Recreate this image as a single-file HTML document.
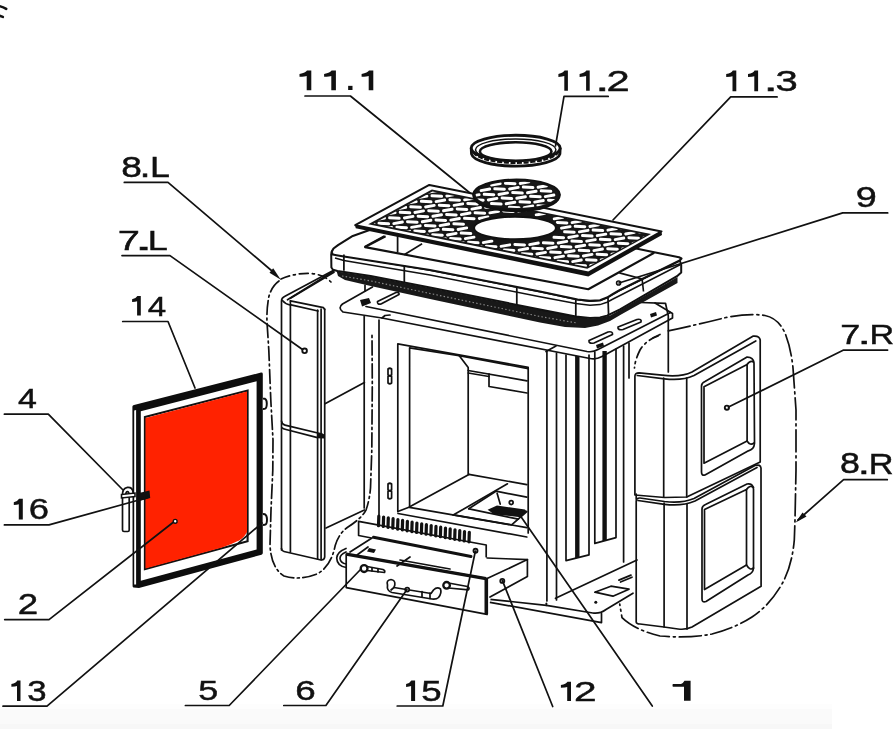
<!DOCTYPE html>
<html><head><meta charset="utf-8">
<style>
html,body{margin:0;padding:0;background:#fff;}
body{width:894px;height:729px;overflow:hidden;position:relative;font-family:"Liberation Sans",sans-serif;}
svg{position:absolute;left:0;top:0;filter:blur(0.35px);}
text{font-family:"Liberation Sans",sans-serif;fill:#111;}
.l{stroke:#111;stroke-width:1.7;fill:none;stroke-linecap:round;stroke-linejoin:round;}
.m{stroke:#111;stroke-width:2;fill:none;stroke-linecap:round;stroke-linejoin:round;}
.k{stroke:#111;stroke-width:3;fill:none;stroke-linecap:round;stroke-linejoin:round;}
.f{fill:#111;stroke:none;}
.wf{fill:#fff;}
</style></head><body>
<svg width="894" height="729" viewBox="0 0 894 729">
<rect x="0" y="704" width="832" height="5" fill="#fdfdfd"/>
<rect x="0" y="709" width="832" height="15" fill="#fafafa"/>
<rect x="0" y="724" width="832" height="5" fill="#f7f7f7"/>
<g id="door">
<!-- door outer dark -->
<path d="M132.4,406.5 Q132.6,405.2 134,404.9 L261,372.6 Q262.8,372.4 262.8,374 L262.8,553 Q262.8,554.4 261.5,554.7 L139,588 L133.5,587.4 Q132.6,587.2 132.6,586 Z" fill="#0d0d0d"/>
<!-- thin white strip on left -->
<path d="M134.2,410.5 L136.1,410 L136.1,584.5 L134.2,584.5 Z" fill="#fff"/>
<!-- white frame face -->
<path d="M140.8,411.3 L256.6,381.3 L256.6,549.4 L140.8,580.7 Z" fill="#fff"/>
<!-- red panel with border -->
<path d="M144.9,417 L247.6,390.5 L247.6,541.3 L144.9,569.2 Z" fill="none" stroke="#111" stroke-width="2.08"/>
<path d="M145.5,418 L247,391.5 L247,532 Q244,538 239,540.5 Q231,544.5 222,547.6 L145.5,568.5 Z" fill="#ff2200"/>
<!-- hinges -->
<path d="M262.8,398.6 L265,398.8 Q266.8,399.6 266.8,403.5 Q266.8,408.6 264.6,408.9 L262.8,409" fill="#fff" stroke="#111" stroke-width="1.95"/>
<path d="M262.8,514 L265,514.3 Q267,515.5 267,519.5 Q267,524.6 264.8,524.8 L262.8,525" fill="#fff" stroke="#111" stroke-width="1.95"/>
<!-- handle 4 -->
<path d="M122.5,495 L122.5,530 Q122.6,531.5 124,531.5 L127.8,531.5 Q129.2,531.5 129.2,530 L129.2,495" fill="#fff" stroke="#111" stroke-width="1.69"/>
<path d="M122.5,496 Q122,488 127.5,487.3 Q132.5,487 133,492 L133,494.5 L129.2,495 Q129,491.5 127.2,491.7 Q125.6,492 125.8,496 Z" fill="#fff" stroke="#111" stroke-width="1.69"/>
<path d="M121.5,494.5 L135,493 L135,496.5 L121.5,498 Z" fill="#fff" stroke="#111" stroke-width="1.56"/>
<!-- latch 16 -->
<path d="M139,493 L149.5,490.5 L150.2,498 L139.5,501 Z" fill="#111"/>
<!-- 2 dot -->
<circle cx="175.2" cy="521.3" r="1.9" fill="#fff" stroke="#111" stroke-width="1.43"/>

</g>
<g id="leftpanel">
<!-- arrowhead 8.L -->
<path d="M280.8,279.8 L269.5,272.8 L273.2,268.2 Z" class="f"/>
<!-- left panel -->
<path d="M281.5,550 L281.5,301 Q281.6,298 284.5,296.6 L334.6,269.8" class="l" stroke-width="2.48"/>
<path d="M290.4,298.3 L334,272.2" class="l" stroke-width="1.89"/>
<path d="M287.5,299.8 L333.8,271" class="l" stroke-width="1.16"/>
<path d="M282.7,300.8 Q285,304 290,305" class="l" stroke-width="1.89"/>
<path d="M290.4,300.8 L323.5,307.7 L324.7,309.5" class="l" stroke-width="2.8"/>
<path d="M291,304.8 L318,311" class="l" stroke-width="1.75"/>
<path d="M290.4,300.8 L290.4,552" class="l" stroke-width="1.89"/>
<path d="M317.6,310 L317.6,559" class="l" stroke-width="1.89"/>
<path d="M321.1,309 L321.1,559" class="l" stroke-width="1.89"/>
<path d="M324.7,309 L324.7,557 Q324.5,559.8 321.5,560" class="l" stroke-width="2.48"/>
<path d="M281.5,548.5 Q281.8,551 284,551.5 L321,560" class="l" stroke-width="2.71"/>
<!-- split between upper and lower block -->
<path d="M281.5,421 Q282,424.5 285,425.2 L322,434" class="l" stroke-width="3.2"/>
<path d="M282,427.8 Q283,429 286,429.5 L317.5,437.6" class="l" stroke-width="2"/>
<path d="M317,433 L324.5,434.2 L324.5,438.5 L317,438.3 Z" class="f"/>
<!-- 7.L dot -->
<circle cx="304.6" cy="350.8" r="2.3" fill="#fff" stroke="#111" stroke-width="1.89"/>

</g>
<g id="body">
<!-- body side and front base fill -->
<path d="M363.6,317 L379,320 L548,350 L548,601 L379,560 L363.6,516 Z" fill="#fff"/>
<!-- body left side lines -->
<path d="M364.2,316.5 L364.2,508" class="l" stroke-width="1.9"/>
<path d="M379,320 L379,515" class="l" stroke-width="2.18"/>
<path d="M365,285 L365,291" class="l" stroke-width="1.89"/>
<!-- latch slots B -->
<path d="M388,369 Q389.8,367.5 391.6,369 L391.6,375 Q389.8,376.2 388,375 Z M388,376.5 Q389.8,375.5 391.6,376.5 L391.6,383 Q389.8,384.5 388,383 Z" class="l" stroke-width="1.89"/>
<path d="M388,484 Q389.8,482.5 391.6,484 L391.6,490 Q389.8,491.2 388,490 Z M388,491.5 Q389.8,490.5 391.6,491.5 L391.6,498 Q389.8,499.5 388,498 Z" class="l" stroke-width="1.89"/>
<!-- front face lintel top line -->
<!-- opening outer -->
<path d="M397.8,511.5 L397.8,343.9 L528.2,367.4 L528.2,533" class="l" stroke-width="2.18"/>
<!-- opening inner -->
<path d="M409.6,507 L409.6,347.8 L459.1,355.6 L468.2,367.4 L468.2,474.3" class="l" stroke-width="1.89"/>
<path d="M459.1,355.6 L528.2,368.7" class="l" stroke-width="1.6"/>
<!-- baffle -->
<path d="M468.2,370.5 L527,380.8" class="l" stroke-width="1.6"/>
<path d="M468.2,373 L489,376.5" class="l" stroke-width="1.6"/>
<path d="M489,373.9 L489,386.5 L527,393" class="l" stroke-width="1.89"/>
<!-- back wall bottom & floor -->
<path d="M468.9,474.4 L526.8,484.6" class="l" stroke-width="2.04"/>
<path d="M410.2,506.5 L468.9,474.4" class="l" stroke-width="2.62"/>
<path d="M453.2,515.1 L507.5,483.8" class="l" stroke-width="2.9"/>
<path d="M468.7,508.8 L495.9,491.2 L526.8,497.2" class="l" stroke-width="2.6"/>
<path d="M469.1,508.8 L518.3,519.2" class="l" stroke-width="1.8"/>
<path d="M497.1,493.2 L500.2,504.1" class="l" stroke-width="1.6"/>
<path d="M487.6,509.8 L497,505.5 L524.9,509.5 L526.8,511.5 L520.5,517.2 L494,514.3 Z" fill="#111"/>
<path d="M453.4,514.9 L511.6,524.8 L526.8,511.5" class="l" stroke-width="2.3"/>
<circle cx="511.2" cy="502.6" r="1.9" fill="#fff" stroke="#111" stroke-width="1.75"/>
<!-- opening bottom frame -->
<path d="M397.8,511.5 L409.6,507" class="l" stroke-width="1.6"/>
<path d="M409.4,507.3 L526.8,527.6" class="l" stroke-width="1.89"/>
<path d="M398,513.5 L526.8,537" class="l" stroke-width="2.18"/>
<!-- right front face and ribs -->
<path d="M546.9,351 L546.9,601" class="l" stroke-width="2.18"/>
<path d="M556.5,353 L556.5,600" class="l" stroke-width="1.89"/>
<path d="M566,355 L566,560.6 L589,554.9 L589,355" class="l" stroke-width="1.89"/>
<path d="M577.3,356 L577.3,558" stroke="#111" stroke-width="4.4"/>
<path d="M594.8,352 L594.8,543.4 L616,537.6 L616,349" class="l" stroke-width="1.89"/>
<path d="M604.6,351 L604.6,541" stroke="#111" stroke-width="4.4"/>
<path d="M623.6,346 L623.6,562" class="l" stroke-width="1.89"/>
<path d="M629,343 L629,378" class="l" stroke-width="1.6"/>
<!-- right side of body behind -->
<path d="M641,302.5 L665.5,303.3 L668.3,316 L668.3,372" class="l" stroke-width="2.18"/>
<path d="M653,338 L658,336" class="l" stroke-width="1.75"/>
<!-- body back-left diagonals (behind left panel) -->
<path d="M325,403.7 L364.4,382.6" class="l" stroke-width="2.18"/>
<path d="M326,528 L364.4,510" class="l" stroke-width="2.18"/>
<!-- hob plate -->
<path d="M372.5,287 L342.5,304 Q337.5,308 343,312 L382,318 L590,358.5 Q596,359.8 602,356.5 L672.5,318 L672.5,313.5 L655,303" fill="#fff" class="l" stroke-width="2.24"/>
<path d="M366,306.5 L587,351.5 Q593,352.5 598,349.5 L670.5,312.5" class="l" stroke-width="1.9"/>
<path d="M382,318 L385,315.5 L390,315" class="l" stroke-width="1.57"/>
<path d="M546,351.5 L556,346" class="l" stroke-width="1.79"/>
<!-- slots on hob -->
<path d="M360,300 L369,298 L371,303 L362,306.5 Z" class="f"/>
<path d="M377.5,301.5 L396,292.5 Q399.5,292 399,294.5 L381,304 Q377,304.8 377.5,301.5 Z" fill="#fff" class="l" stroke-width="3"/>
<path d="M589,340.5 L608,332 Q613,331 612.5,334.5 L594,343 Q588.5,344 589,340.5 Z" fill="#fff" class="l" stroke-width="3.0"/>
<path d="M618,327 L637,319.5 Q642,318.5 641,322 L623,329.5 Q617.5,330.5 618,327 Z" fill="#fff" class="l" stroke-width="3.0"/>
<path d="M596,345 L603,342.5 L604,346 L597,348.5 Z" class="f"/>
<path d="M650,314 L656,312 L657,315.5 L651,317.5 Z" class="f"/>
<!-- base plate -->
<path d="M555.5,598.3 L637,560" class="l" stroke-width="2.04"/>
<path d="M490,599.3 L546.4,605.3 L592.7,613 Q600,614 606,609.5 L633,593.2" class="l" stroke-width="2.33"/>
<path d="M490,602.3 L601.5,622.6 L601.5,613.5" class="l" stroke-width="2.33"/>
<path d="M546.4,603.3 L546.4,605.3" class="l" stroke-width="2.04"/>
<path d="M594.8,592.2 L610.9,586.2 L629,589.2 L612.9,596.2 Z" class="l" stroke-width="2.04"/>
<path d="M618.9,580.1 L631,575.1 M620.5,582 L632,577.2" class="l" stroke-width="1.6"/>
<circle cx="595.8" cy="602.3" r="1.5" class="f"/>

</g>
<g id="outlineL">
<!-- 8.L dashed outline -->
<path d="M281,279 Q296,272.5 312,273.5 Q324,275 331,282" class="l" stroke-width="1.8" stroke-dasharray="9 4 2 4" stroke-linecap="butt"/>
<path d="M279,281 Q272,286 269,296 Q266.5,308 267,322 L268.8,350 L270.8,400 L273,440 L272.8,470 L271,510 L270,545 Q271,568 284,576 Q300,581 318,573.5 Q331,566 335.2,545.6 Q339,533 348,527 Q362,518 366.1,509.8 Q369.5,500 370.5,488 L371.8,450 L372.3,384 L372,334" class="l" stroke-width="1.8" stroke-dasharray="14 3.5 2 3.5" stroke-linecap="butt"/>

</g>
<g id="top">
<polygon points="336.7,271.5 370.7,276.4 430.0,288.0 540.0,309.8 577.0,316.8 590.0,318.4 600.0,317.8 610.0,315.5 620.0,310.0 677.5,277.0 677.5,283.0 622.0,314.0 610.0,321.0 598.0,325.5 585.0,328.0 565.0,327.0 540.0,322.5 430.0,299.0 370.7,286.0 345.0,280.0 338.0,276.0" fill="#181818"/>
<polyline points="342,276 371,281 430,293.5 540,316.5 577,323" fill="none" stroke="#888" stroke-width="1.12" stroke-dasharray="1.5 2.2"/>
<polygon points="331.2,254.0 332.5,250.5 336.5,251.5 343.9,255.5 430.0,270.0 540.0,291.5 577.6,299.5 590.0,300.9 600.0,300.2 607.0,297.6 613.0,294.0 620.0,290.0 679.7,260.5 681.2,264.5 681.2,272.5 677.0,276.2 620.0,309.4 607.0,315.6 600.0,317.4 590.0,318.0 575.8,316.5 540.0,309.4 430.0,287.6 370.7,276.1 337.5,271.0 333.0,269.8 331.4,267.5" fill="#fff" stroke="#111" stroke-width="2.0" stroke-linejoin="round"/>
<polyline points="335,258 343.9,260.5 430,275 540,296.8 575.8,303.6 590,305.3 600,304.6 607,302.2 614,298.5 620,295.5 680.5,264.5" fill="none" stroke="#111" stroke-width="1.5"/>
<polygon points="352.8,235.9 338.0,245.2 333.5,248.5 331.6,252.0 332.8,254.5 336.5,255.2 343.9,256.5 430.0,270.0 540.0,291.5 577.6,299.5 590.0,300.9 600.0,300.2 607.0,297.6 613.0,294.0 620.0,290.0 679.7,260.5 681.5,258.5 679.0,257.2 654.2,252.3 600.0,241.0 420.0,212.0" fill="#fff" stroke="#111" stroke-width="2.12" stroke-linejoin="round"/>
<polyline points="385.6,236.3 365,247.1 588.3,289.2 620,271.8 654.2,252.8" fill="none" stroke="#111" stroke-width="2.12" stroke-linejoin="round"/>
<polyline points="384.2,235.9 364.5,246.6" fill="none" stroke="#111" stroke-width="1.25"/>
<polyline points="404.2,254.8 422.1,243.7" fill="none" stroke="#111" stroke-width="1.6"/>
<polyline points="399.4,252.9 399.5,252.9" fill="none" stroke="#111" stroke-width="1.62"/>
<line x1="397.6" y1="236" x2="397.6" y2="252.5" stroke="#111" stroke-width="1.75"/>
<polyline points="619.3,272.9 642.1,278.9 643.5,291.5" fill="none" stroke="#111" stroke-width="1.62"/>
<path d="M343.9,254.5 L343.9,270.8 M404.3,265 L404.3,282.8 M516.8,287 L516.8,305 M575.8,299.8 L575.8,316.5 M608,297.5 L608.6,315.5" stroke="#111" stroke-width="1.75" fill="none"/>
<circle cx="618.6" cy="283" r="2" fill="#fff" stroke="#111" stroke-width="1.62"/>
<polygon points="355.2,225.2 588.3,272.6 661.5,231.4 662.0,234.9 588.3,276.4 355.7,228.2" fill="#111"/>
<polygon points="355.2,225.2 429.3,184.9 661.5,231.4 588.3,272.6" fill="#fff" stroke="#111" stroke-width="2.0" stroke-linejoin="round"/>
<polygon points="368.2,224.2 431.9,189.6 651.0,234.1 587.3,268.8" fill="#171717"/>
<clipPath id="grc"><polygon points="373.6,223.4 432.5,191.4 646.5,234.9 587.6,266.9"/></clipPath>
<defs><rect id="hw" x="-6.3" y="-1.5" width="12.6" height="3.0" rx="1.5"/><rect id="ht" x="-5.8" y="-1.45" width="11.6" height="2.9" rx="1.3"/></defs>
<g fill="#fff" clip-path="url(#grc)"><use href="#hw" transform="translate(429.5,186.8) rotate(3)"/><use href="#hw" transform="translate(418.9,192.3) rotate(3)"/><use href="#ht" transform="translate(433.2,191.4) rotate(-10)"/><use href="#hw" transform="translate(447.4,190.6) rotate(3)"/><use href="#hw" transform="translate(408.3,197.8) rotate(3)"/><use href="#ht" transform="translate(422.6,196.9) rotate(-10)"/><use href="#hw" transform="translate(436.8,196.1) rotate(3)"/><use href="#ht" transform="translate(451.1,195.2) rotate(-10)"/><use href="#hw" transform="translate(465.3,194.4) rotate(3)"/><use href="#hw" transform="translate(397.7,203.3) rotate(3)"/><use href="#ht" transform="translate(411.9,202.4) rotate(-10)"/><use href="#hw" transform="translate(426.2,201.6) rotate(3)"/><use href="#ht" transform="translate(440.4,200.8) rotate(-10)"/><use href="#hw" transform="translate(454.7,199.9) rotate(3)"/><use href="#ht" transform="translate(468.9,199.1) rotate(-10)"/><use href="#hw" transform="translate(483.2,198.2) rotate(3)"/><use href="#hw" transform="translate(387.1,208.8) rotate(3)"/><use href="#ht" transform="translate(401.4,208.0) rotate(-10)"/><use href="#hw" transform="translate(415.6,207.1) rotate(3)"/><use href="#ht" transform="translate(429.9,206.2) rotate(-10)"/><use href="#hw" transform="translate(444.1,205.4) rotate(3)"/><use href="#ht" transform="translate(458.4,204.6) rotate(-10)"/><use href="#hw" transform="translate(472.6,203.7) rotate(3)"/><use href="#ht" transform="translate(486.9,202.8) rotate(-10)"/><use href="#hw" transform="translate(501.1,202.0) rotate(3)"/><use href="#hw" transform="translate(376.5,214.3) rotate(3)"/><use href="#ht" transform="translate(390.8,213.4) rotate(-10)"/><use href="#hw" transform="translate(405.0,212.6) rotate(3)"/><use href="#ht" transform="translate(419.2,211.7) rotate(-10)"/><use href="#hw" transform="translate(433.5,210.9) rotate(3)"/><use href="#ht" transform="translate(447.8,210.0) rotate(-10)"/><use href="#hw" transform="translate(462.0,209.2) rotate(3)"/><use href="#ht" transform="translate(476.2,208.3) rotate(-10)"/><use href="#hw" transform="translate(490.5,207.5) rotate(3)"/><use href="#ht" transform="translate(504.8,206.6) rotate(-10)"/><use href="#hw" transform="translate(519.0,205.8) rotate(3)"/><use href="#hw" transform="translate(365.9,219.8) rotate(3)"/><use href="#ht" transform="translate(380.2,218.9) rotate(-10)"/><use href="#hw" transform="translate(394.4,218.1) rotate(3)"/><use href="#ht" transform="translate(408.7,217.2) rotate(-10)"/><use href="#hw" transform="translate(422.9,216.4) rotate(3)"/><use href="#ht" transform="translate(437.2,215.5) rotate(-10)"/><use href="#hw" transform="translate(451.4,214.7) rotate(3)"/><use href="#ht" transform="translate(465.7,213.8) rotate(-10)"/><use href="#hw" transform="translate(479.9,213.0) rotate(3)"/><use href="#ht" transform="translate(494.2,212.1) rotate(-10)"/><use href="#hw" transform="translate(508.4,211.3) rotate(3)"/><use href="#ht" transform="translate(522.7,210.4) rotate(-10)"/><use href="#hw" transform="translate(536.9,209.6) rotate(3)"/><use href="#ht" transform="translate(369.6,224.4) rotate(-10)"/><use href="#hw" transform="translate(383.8,223.6) rotate(3)"/><use href="#ht" transform="translate(398.1,222.8) rotate(-10)"/><use href="#hw" transform="translate(412.3,221.9) rotate(3)"/><use href="#ht" transform="translate(426.6,221.0) rotate(-10)"/><use href="#hw" transform="translate(440.8,220.2) rotate(3)"/><use href="#ht" transform="translate(455.1,219.3) rotate(-10)"/><use href="#hw" transform="translate(469.3,218.5) rotate(3)"/><use href="#ht" transform="translate(483.6,217.7) rotate(-10)"/><use href="#ht" transform="translate(540.5,214.2) rotate(-10)"/><use href="#hw" transform="translate(554.8,213.4) rotate(3)"/><use href="#ht" transform="translate(387.4,228.2) rotate(-10)"/><use href="#hw" transform="translate(401.7,227.4) rotate(3)"/><use href="#ht" transform="translate(415.9,226.6) rotate(-10)"/><use href="#hw" transform="translate(430.2,225.7) rotate(3)"/><use href="#ht" transform="translate(444.4,224.8) rotate(-10)"/><use href="#hw" transform="translate(458.7,224.0) rotate(3)"/><use href="#ht" transform="translate(558.5,218.1) rotate(-10)"/><use href="#hw" transform="translate(572.7,217.2) rotate(3)"/><use href="#ht" transform="translate(405.4,232.1) rotate(-10)"/><use href="#hw" transform="translate(419.6,231.2) rotate(3)"/><use href="#ht" transform="translate(433.9,230.3) rotate(-10)"/><use href="#hw" transform="translate(448.1,229.5) rotate(3)"/><use href="#ht" transform="translate(462.4,228.7) rotate(-10)"/><use href="#hw" transform="translate(562.1,222.7) rotate(3)"/><use href="#ht" transform="translate(576.4,221.8) rotate(-10)"/><use href="#hw" transform="translate(590.6,221.0) rotate(3)"/><use href="#ht" transform="translate(423.2,235.9) rotate(-10)"/><use href="#hw" transform="translate(437.5,235.0) rotate(3)"/><use href="#ht" transform="translate(451.8,234.2) rotate(-10)"/><use href="#hw" transform="translate(466.0,233.3) rotate(3)"/><use href="#ht" transform="translate(565.8,227.4) rotate(-10)"/><use href="#hw" transform="translate(580.0,226.5) rotate(3)"/><use href="#ht" transform="translate(594.2,225.7) rotate(-10)"/><use href="#hw" transform="translate(608.5,224.8) rotate(3)"/><use href="#ht" transform="translate(441.2,239.6) rotate(-10)"/><use href="#hw" transform="translate(455.4,238.8) rotate(3)"/><use href="#ht" transform="translate(469.7,237.9) rotate(-10)"/><use href="#hw" transform="translate(569.4,232.0) rotate(3)"/><use href="#ht" transform="translate(583.7,231.1) rotate(-10)"/><use href="#hw" transform="translate(597.9,230.3) rotate(3)"/><use href="#ht" transform="translate(612.2,229.4) rotate(-10)"/><use href="#hw" transform="translate(626.4,228.6) rotate(3)"/><use href="#ht" transform="translate(459.1,243.4) rotate(-10)"/><use href="#hw" transform="translate(473.3,242.6) rotate(3)"/><use href="#ht" transform="translate(487.6,241.8) rotate(-10)"/><use href="#hw" transform="translate(558.8,237.5) rotate(3)"/><use href="#ht" transform="translate(573.0,236.7) rotate(-10)"/><use href="#hw" transform="translate(587.3,235.8) rotate(3)"/><use href="#ht" transform="translate(601.5,234.9) rotate(-10)"/><use href="#hw" transform="translate(615.8,234.1) rotate(3)"/><use href="#ht" transform="translate(630.0,233.2) rotate(-10)"/><use href="#hw" transform="translate(644.3,232.4) rotate(3)"/><use href="#ht" transform="translate(658.5,231.5) rotate(-10)"/><use href="#ht" transform="translate(476.9,247.2) rotate(-10)"/><use href="#hw" transform="translate(491.2,246.4) rotate(3)"/><use href="#ht" transform="translate(505.4,245.6) rotate(-10)"/><use href="#hw" transform="translate(519.7,244.7) rotate(3)"/><use href="#ht" transform="translate(534.0,243.8) rotate(-10)"/><use href="#hw" transform="translate(548.2,243.0) rotate(3)"/><use href="#ht" transform="translate(562.5,242.2) rotate(-10)"/><use href="#hw" transform="translate(576.7,241.3) rotate(3)"/><use href="#ht" transform="translate(591.0,240.4) rotate(-10)"/><use href="#hw" transform="translate(605.2,239.6) rotate(3)"/><use href="#ht" transform="translate(619.5,238.8) rotate(-10)"/><use href="#hw" transform="translate(633.7,237.9) rotate(3)"/><use href="#ht" transform="translate(648.0,237.1) rotate(-10)"/><use href="#ht" transform="translate(494.9,251.1) rotate(-10)"/><use href="#hw" transform="translate(509.1,250.2) rotate(3)"/><use href="#ht" transform="translate(523.4,249.3) rotate(-10)"/><use href="#hw" transform="translate(537.6,248.5) rotate(3)"/><use href="#ht" transform="translate(551.9,247.7) rotate(-10)"/><use href="#hw" transform="translate(566.1,246.8) rotate(3)"/><use href="#ht" transform="translate(580.4,246.0) rotate(-10)"/><use href="#hw" transform="translate(594.6,245.1) rotate(3)"/><use href="#ht" transform="translate(608.9,244.2) rotate(-10)"/><use href="#hw" transform="translate(623.1,243.4) rotate(3)"/><use href="#ht" transform="translate(637.4,242.6) rotate(-10)"/><use href="#ht" transform="translate(512.8,254.9) rotate(-10)"/><use href="#hw" transform="translate(527.0,254.0) rotate(3)"/><use href="#ht" transform="translate(541.2,253.2) rotate(-10)"/><use href="#hw" transform="translate(555.5,252.3) rotate(3)"/><use href="#ht" transform="translate(569.8,251.5) rotate(-10)"/><use href="#hw" transform="translate(584.0,250.6) rotate(3)"/><use href="#ht" transform="translate(598.2,249.8) rotate(-10)"/><use href="#hw" transform="translate(612.5,248.9) rotate(3)"/><use href="#ht" transform="translate(626.8,248.1) rotate(-10)"/><use href="#ht" transform="translate(530.7,258.6) rotate(-10)"/><use href="#hw" transform="translate(544.9,257.8) rotate(3)"/><use href="#ht" transform="translate(559.2,256.9) rotate(-10)"/><use href="#hw" transform="translate(573.4,256.1) rotate(3)"/><use href="#ht" transform="translate(587.7,255.2) rotate(-10)"/><use href="#hw" transform="translate(601.9,254.4) rotate(3)"/><use href="#ht" transform="translate(616.2,253.5) rotate(-10)"/><use href="#ht" transform="translate(548.5,262.5) rotate(-10)"/><use href="#hw" transform="translate(562.8,261.6) rotate(3)"/><use href="#ht" transform="translate(577.0,260.8) rotate(-10)"/><use href="#hw" transform="translate(591.3,259.9) rotate(3)"/><use href="#ht" transform="translate(605.5,259.1) rotate(-10)"/><use href="#ht" transform="translate(566.5,266.2) rotate(-10)"/><use href="#hw" transform="translate(580.7,265.4) rotate(3)"/><use href="#ht" transform="translate(595.0,264.6) rotate(-10)"/><use href="#ht" transform="translate(584.4,270.0) rotate(-10)"/></g>
<ellipse cx="515" cy="228" rx="44" ry="13.5" fill="#171717"/>
<ellipse cx="515" cy="228" rx="41" ry="11.3" fill="#fff" stroke="#111" stroke-width="2.0"/>
<ellipse cx="516.5" cy="196.8" rx="43.5" ry="15.4" fill="#111"/>
<ellipse cx="516.5" cy="194.8" rx="43.5" ry="15.4" fill="#171717" stroke="#111" stroke-width="1.88"/>
<clipPath id="lidc"><ellipse cx="516.5" cy="194.8" rx="40.9" ry="13.2"/></clipPath>
<g fill="#fff" clip-path="url(#lidc)"><use href="#ht" transform="translate(495.9,184.3) rotate(-10)"/><use href="#hw" transform="translate(510.2,183.5) rotate(3)"/><use href="#ht" transform="translate(524.5,182.7) rotate(-10)"/><use href="#ht" transform="translate(485.4,189.8) rotate(-10)"/><use href="#hw" transform="translate(499.6,189.0) rotate(3)"/><use href="#ht" transform="translate(513.9,188.2) rotate(-10)"/><use href="#hw" transform="translate(528.1,187.3) rotate(3)"/><use href="#ht" transform="translate(542.4,186.5) rotate(-10)"/><use href="#ht" transform="translate(474.8,195.4) rotate(-10)"/><use href="#hw" transform="translate(489.0,194.5) rotate(3)"/><use href="#ht" transform="translate(503.2,193.7) rotate(-10)"/><use href="#hw" transform="translate(517.5,192.8) rotate(3)"/><use href="#ht" transform="translate(531.8,192.0) rotate(-10)"/><use href="#hw" transform="translate(546.0,191.1) rotate(3)"/><use href="#hw" transform="translate(478.4,200.0) rotate(3)"/><use href="#ht" transform="translate(492.6,199.2) rotate(-10)"/><use href="#hw" transform="translate(506.9,198.3) rotate(3)"/><use href="#ht" transform="translate(521.1,197.5) rotate(-10)"/><use href="#hw" transform="translate(535.4,196.6) rotate(3)"/><use href="#ht" transform="translate(549.6,195.8) rotate(-10)"/><use href="#hw" transform="translate(496.3,203.8) rotate(3)"/><use href="#ht" transform="translate(510.5,203.0) rotate(-10)"/><use href="#hw" transform="translate(524.8,202.1) rotate(3)"/><use href="#ht" transform="translate(539.0,201.3) rotate(-10)"/><use href="#hw" transform="translate(553.3,200.4) rotate(3)"/><use href="#hw" transform="translate(514.2,207.6) rotate(3)"/><use href="#ht" transform="translate(528.5,206.8) rotate(-10)"/><use href="#hw" transform="translate(542.7,205.9) rotate(3)"/></g>
<path d="M471.2,148 L471.5,154 A44.3,12.9 0 0 0 559.9,154 L560.2,148" fill="#fff" stroke="#111" stroke-width="2.8"/>
<path d="M473.5,152 A42.5,12.2 0 0 0 558,152" fill="none" stroke="#111" stroke-width="2.2" stroke-dasharray="5 1.6"/>
<ellipse cx="515.7" cy="148" rx="44.5" ry="12.7" fill="#fff" stroke="#111" stroke-width="2.9"/>
<ellipse cx="515.7" cy="149.7" rx="40.2" ry="10.7" fill="none" stroke="#111" stroke-width="1.5"/>
<ellipse cx="515.7" cy="151.5" rx="35.8" ry="9.2" fill="#fff" stroke="#111" stroke-width="2.6"/>
</g>
<g id="right">
<!-- 8.R dashed outline -->
<path d="M668.3,330.9 Q700,324 726,317.5 Q748,313 765,315.5 Q778,318 785,333 Q791,348 793,368 L796,410 L796,470 L795,520 L794.3,540 Q792,566 782,584 Q770,605 752,617 Q735,628 712,634 Q690,638.5 660,636 Q635,630 622,617.6 L619.7,604" class="l" stroke-width="1.8" stroke-dasharray="22 4 2 4" stroke-linecap="butt"/>
<path d="M660,334.5 Q645,341 640,350 Q635,360 634.5,368" class="l" stroke-width="1.8" stroke-dasharray="12 4 2 4" stroke-linecap="butt"/>
<!-- arrowhead 8.R -->
<path d="M795.7,522.5 L802.5,512.5 L806.5,516.5 Z" class="f"/>
<!-- upper block -->
<path d="M634.9,495 L634.9,376 Q635.2,372.8 639,372.8 L662,375.2 Q681,377.5 692,372 L753.3,336.1 Q759.5,335.5 760.2,340 L760.2,462 L686.7,497 L664.5,497.5 Z" fill="#fff" class="l" stroke-width="2.8"/>
<path d="M637.3,375.5 L664.5,378.8 Q682,381 694,375.5 L755.8,341" class="l" stroke-width="1.75"/>
<path d="M663.7,378 L663.7,497" class="l" stroke-width="1.6"/>
<path d="M686.7,378 L686.7,497" class="l" stroke-width="2.04"/>
<!-- upper window -->
<path d="M701.5,386 Q701.5,383 705,381.5 L747.1,357.1 Q753.3,357 754,363 L754.5,443.4 Q754,449.5 748.4,450.8 L705,475 Q701.5,476 701.5,472 Z" fill="#fff" class="l" stroke-width="2.62"/>
<path d="M704,386.7 L747.1,364.5 L747.1,441 L704,463.2 Z" class="l" stroke-width="1.75"/>
<path d="M747.1,364.5 Q750,360 753.5,362 M747.1,441 Q750,446 754,443" class="l" stroke-width="1.6"/>
<circle cx="726.9" cy="407.7" r="2.1" fill="#fff" stroke="#111" stroke-width="1.89"/>
<!-- lower block -->
<path d="M636.2,622 L636.2,501 Q636.4,497.8 640,498 L664.5,501.5 Q682,503.5 694,498.5 L755,465.5 Q760.5,464 761,468 L761.1,586.3 L692,627 Q686,630 678,629 L664,627 L640,624 Q636.3,624 636.2,622 Z" fill="#fff" class="l" stroke-width="3"/>
<path d="M638,500.5 L664.5,504.3 Q682,506.5 695,501 L757,467.5" class="l" stroke-width="1.75"/>
<path d="M664.1,503 L664.1,627" class="l" stroke-width="1.6"/>
<path d="M687,504 L687,629" class="l" stroke-width="2.04"/>
<path d="M636.2,494 L636.2,499" class="l" stroke-width="2.46"/>
<!-- lower window -->
<path d="M702,509 Q702,506 705.5,504.5 L747,484 Q753,483 753.5,489 L753.5,568.5 Q753,573 748,575 L706,601.5 Q702,603 702,599 Z" fill="#fff" class="l" stroke-width="2.62"/>
<path d="M704.5,509.5 L746.5,489.5 L746.5,565 L704.5,589.5 Z" class="l" stroke-width="1.75"/>
<path d="M746.5,489.5 Q750,484.5 753.5,487.5 M746.5,565 Q750,571 753.5,568" class="l" stroke-width="1.6"/>

</g>
<g id="drawer">
<!-- teeth comb -->
<g stroke="#111" stroke-width="3.2" stroke-linecap="round">
<line x1="378.5" y1="525.7" x2="378.8" y2="516.2"/>
<line x1="383.3" y1="526.5" x2="383.6" y2="517.0"/>
<line x1="388.0" y1="527.4" x2="388.3" y2="517.9"/>
<line x1="392.8" y1="528.2" x2="393.1" y2="518.7"/>
<line x1="397.6" y1="529.1" x2="397.9" y2="519.6"/>
<line x1="402.3" y1="529.9" x2="402.6" y2="520.4"/>
<line x1="407.1" y1="530.8" x2="407.4" y2="521.3"/>
<line x1="411.8" y1="531.6" x2="412.1" y2="522.1"/>
<line x1="416.6" y1="532.5" x2="416.9" y2="523.0"/>
<line x1="421.4" y1="533.3" x2="421.7" y2="523.8"/>
<line x1="426.1" y1="534.2" x2="426.4" y2="524.7"/>
<line x1="430.9" y1="535.0" x2="431.2" y2="525.5"/>
<line x1="435.7" y1="535.9" x2="436.0" y2="526.4"/>
<line x1="440.4" y1="536.7" x2="440.7" y2="527.2"/>
<line x1="445.2" y1="537.6" x2="445.5" y2="528.1"/>
<line x1="449.9" y1="538.4" x2="450.2" y2="528.9"/>
<line x1="454.7" y1="539.3" x2="455.0" y2="529.8"/>
<line x1="459.5" y1="540.1" x2="459.8" y2="530.6"/>
<line x1="464.2" y1="541.0" x2="464.5" y2="531.5"/>
<line x1="469.0" y1="541.8" x2="469.3" y2="532.3"/>
</g>

<!-- slab (15) -->
<path d="M358.6,521.4 L486.2,545 L486.2,560 L358.6,535.5 Z" fill="#fff" class="l" stroke-width="2.33"/>
<circle cx="475.5" cy="550.7" r="2" fill="#fff" stroke="#111" stroke-width="1.89"/>
<!-- drawer interior (behind front) -->
<path d="M346.2,554 L371.9,537.3 L489,558 L527.4,559.6 L527.4,576.5 L491,597 L487.1,614.4 L346.2,587.6 Z" fill="#fff"/>
<path d="M350,552 L372,538" class="l" stroke-width="1.6"/>
<path d="M373.5,537.3 L471,556.5" stroke="#111" stroke-width="3.0" fill="none" stroke-linecap="round"/>
<path d="M357,555 L368,547 M397,566 L410,557 M400,560 L450,569" class="l" stroke-width="1.6"/>
<path d="M369,548 L376,549.5 L374,553 L367,551.5 Z" class="f"/>
<!-- left tab -->
<path d="M346,548.5 Q337,552 336.7,558 Q337,566 346.2,567.5" class="l" stroke-width="2.48"/>
<path d="M346,552 Q340,554.5 340,558.5 Q340.5,563 346.2,564" class="l" stroke-width="1.46"/>
<!-- drawer right side face -->
<path d="M487.1,578.6 L527.4,559.6 L527.4,576.5 L490,597" fill="#fff" class="l" stroke-width="2.33"/>
<path d="M487.1,558 L527.4,559.6" class="l" stroke-width="1.89"/>
<circle cx="502.3" cy="580.9" r="2" fill="#fff" stroke="#111" stroke-width="1.89"/>
<!-- drawer front face -->
<path d="M346.2,554 L487.1,578.6 L487.1,614.4 L346.2,587.6 Z" fill="#fff" class="l" stroke-width="2.18"/>
<path d="M346.2,554.2 L486,578.6" stroke="#111" stroke-width="3.4" fill="none"/>
<path d="M486.3,578.8 L486.3,614" stroke="#111" stroke-width="3.6" fill="none"/>
<!-- knob 5 -->
<path d="M367,566.5 L383,569.5 Q385.5,570.5 384.5,572.5 L367,570.5 Z" fill="#fff" class="l" stroke-width="2.18"/>
<circle cx="364.1" cy="568.6" r="3.4" fill="#fff" stroke="#111" stroke-width="2.33"/>
<path d="M372,568 L372,571 M378,569 L378,572" class="l" stroke-width="1.46"/>
<!-- right knob -->
<path d="M448.5,583 L467.5,586.5 Q470,588 468.5,589.8 L448.5,588 Z" fill="#fff" class="l" stroke-width="2.18"/>
<circle cx="446.6" cy="585.3" r="3.3" fill="#fff" stroke="#111" stroke-width="2.33"/>
<!-- handle 6 -->
<path d="M387.5,585 Q386,580 391,579.5 Q395.5,580 394.8,585 L394,587.5 L431,593.5 L433.5,590 Q437,586.5 440.5,589 Q442,593 438.5,597.5 Q436.5,599.5 432,599 L392,592.5 Q386.5,591 387.5,585 Z" fill="#fff" class="l" stroke-width="2.18"/>
<path d="M391,590 L394,587.5" class="l" stroke-width="1.46"/>
<circle cx="407.2" cy="589.6" r="2" fill="#fff" stroke="#111" stroke-width="1.75"/>
<path d="M422,591.5 L422,597 M430,593 L430,598.5" class="l" stroke-width="1.46"/>

</g>
<g id="leaders">
<g class="l" stroke-width="1.75">
<polyline points="305,96 350.4,96 470,193"/>
<polyline points="608.2,96.4 564,96.4 555.5,146"/>
<polyline points="777.1,96.9 730.7,96.9 613,220"/>
<polyline points="887.7,212.9 842.7,212.9 619,283"/>
<polyline points="124.3,182.4 168,182.4 272,271"/>
<polyline points="122,255.6 170,255.6 302.5,349.5"/>
<polyline points="122.7,321.5 168,321.5 195,388"/>
<polyline points="4.4,414.2 48.3,414.2 123,490"/>
<polyline points="4.4,524.9 49,524.9 148,497.5"/>
<polyline points="4.7,619.6 49,619.6 173,522.5"/>
<polyline points="3,706.2 47,706.2 262,523"/>
<polyline points="185.4,705.5 229.2,705.5 361,569"/>
<polyline points="283.8,705.5 325.9,705.5 407,589.6"/>
<polyline points="397.2,706 442.8,706 475.4,551"/>
<polyline points="552.7,706.5 502.4,580.6"/>
<polyline points="652.3,706 520.5,516"/>
<polyline points="887.6,350.1 843.6,350.1 728.5,407"/>
<polyline points="887.3,479.7 843.6,479.7 798,520"/>
</g>
<path d="M-1,6 Q3,6.8 6.2,8.8" stroke="#111" stroke-width="2.6" fill="none" stroke-linecap="round"/>
<path d="M-1,15.4 L2.8,16.9" stroke="#111" stroke-width="2.6" fill="none" stroke-linecap="round"/>

</g>
<g id="labels">
<path d="M311.3,70.6 L311.3,90.2 L306.7,90.2 L306.7,75.9 Q305.2,76.5 299.5,76.7 L299.5,73.9 Q305.7,73.0 307.0,70.6 Z" fill="#111"/>
<path d="M335.9,70.6 L335.9,90.2 L331.3,90.2 L331.3,75.9 Q329.8,76.5 324.1,76.7 L324.1,73.9 Q330.3,73.0 331.6,70.6 Z" fill="#111"/>
<text transform="translate(346.08,90.20) scale(1.095,1)" font-size="28.49" font-weight="bold">.</text>
<path d="M373.3,70.6 L373.3,90.2 L368.7,90.2 L368.7,75.9 Q367.2,76.5 361.6,76.7 L361.6,73.9 Q367.7,73.0 369.0,70.6 Z" fill="#111"/>
<path d="M567.9,70.6 L567.9,90.8 L564.3,90.8 L564.3,76.1 Q562.8,76.7 558.4,76.9 L558.4,74.0 Q563.3,73.0 564.6,70.6 Z" fill="#111"/>
<path d="M589.7,70.6 L589.7,90.8 L586.1,90.8 L586.1,76.1 Q584.6,76.7 579.6,76.9 L579.6,74.0 Q585.1,73.0 586.4,70.6 Z" fill="#111"/>
<text transform="translate(595.01,90.80) scale(1.815,1)" font-size="28.93" font-weight="normal" stroke="#111" stroke-width="0.45">.</text>
<text transform="translate(606.60,90.80) scale(1.442,1)" font-size="28.93" font-weight="normal" stroke="#111" stroke-width="0.45">2</text>
<path d="M736.3,70.6 L736.3,91.3 L732.5,91.3 L732.5,76.2 Q731.0,76.8 726.2,77.0 L726.2,74.1 Q731.5,73.1 732.8,70.6 Z" fill="#111"/>
<path d="M758.1,70.6 L758.1,91.3 L754.3,91.3 L754.3,76.2 Q752.8,76.8 748.0,77.0 L748.0,74.1 Q753.3,73.1 754.6,70.6 Z" fill="#111"/>
<text transform="translate(763.21,91.30) scale(1.832,1)" font-size="29.24" font-weight="normal" stroke="#111" stroke-width="0.45">.</text>
<text transform="translate(775.57,91.01) scale(1.371,1)" font-size="29.24" font-weight="normal" stroke="#111" stroke-width="0.45">3</text>
<text transform="translate(855.72,207.22) scale(1.308,1)" font-size="28.95" font-weight="normal" stroke="#111" stroke-width="0.45">9</text>
<text transform="translate(121.19,176.82) scale(1.275,1)" font-size="29.09" font-weight="normal" stroke="#111" stroke-width="0.45">8</text>
<text transform="translate(139.56,177.10) scale(1.372,1)" font-size="29.09" font-weight="normal" stroke="#111" stroke-width="0.45">.</text>
<text transform="translate(150.06,177.10) scale(1.232,1)" font-size="29.09" font-weight="normal" stroke="#111" stroke-width="0.45">L</text>
<text transform="translate(117.76,250.30) scale(1.398,1)" font-size="28.49" font-weight="normal" stroke="#111" stroke-width="0.45">7</text>
<text transform="translate(133.68,250.30) scale(2.507,1)" font-size="28.49" font-weight="normal" stroke="#111" stroke-width="0.45">.</text>
<text transform="translate(147.74,250.30) scale(1.266,1)" font-size="28.49" font-weight="normal" stroke="#111" stroke-width="0.45">L</text>
<path d="M140.8,296.0 L140.8,315.5 L137.1,315.5 L137.1,301.3 Q135.6,301.9 132.1,302.0 L132.1,299.3 Q136.1,298.3 137.4,296.0 Z" fill="#111"/>
<text transform="translate(147.84,315.50) scale(1.169,1)" font-size="28.34" font-weight="normal" stroke="#111" stroke-width="0.45">4</text>
<text transform="translate(18.02,407.50) scale(1.222,1)" font-size="27.76" font-weight="normal" stroke="#111" stroke-width="0.45">4</text>
<path d="M22.8,498.7 L22.8,519.5 L18.8,519.5 L18.8,504.3 Q17.3,504.9 13.8,505.1 L13.8,502.2 Q17.8,501.2 19.1,498.7 Z" fill="#111"/>
<text transform="translate(28.65,519.21) scale(1.239,1)" font-size="29.38" font-weight="normal" stroke="#111" stroke-width="0.45">6</text>
<text transform="translate(17.66,613.90) scale(1.249,1)" font-size="29.36" font-weight="normal" stroke="#111" stroke-width="0.45">2</text>
<path d="M20.5,680.4 L20.5,700.9 L17.0,700.9 L17.0,685.9 Q15.5,686.5 11.4,686.8 L11.4,683.9 Q16.0,682.9 17.3,680.4 Z" fill="#111"/>
<text transform="translate(27.17,700.62) scale(1.202,1)" font-size="28.95" font-weight="normal" stroke="#111" stroke-width="0.45">3</text>
<text transform="translate(198.26,700.33) scale(1.276,1)" font-size="28.09" font-weight="normal" stroke="#111" stroke-width="0.45">5</text>
<text transform="translate(295.33,700.33) scale(1.331,1)" font-size="27.68" font-weight="normal" stroke="#111" stroke-width="0.45">6</text>
<path d="M415.1,680.5 L415.1,701.1 L411.1,701.1 L411.1,686.1 Q409.6,686.7 406.1,686.9 L406.1,684.0 Q410.1,683.0 411.4,680.5 Z" fill="#111"/>
<text transform="translate(421.23,700.81) scale(1.243,1)" font-size="29.52" font-weight="normal" stroke="#111" stroke-width="0.45">5</text>
<path d="M571.0,681.7 L571.0,701.0 L567.2,701.0 L567.2,686.9 Q565.7,687.5 560.9,687.7 L560.9,685.0 Q566.2,684.0 567.5,681.7 Z" fill="#111"/>
<text transform="translate(573.96,701.00) scale(1.469,1)" font-size="27.64" font-weight="normal" stroke="#111" stroke-width="0.45">2</text>
<path d="M690.6,680.8 L690.6,700.8 L684,700.8 L684,686.8 L672.8,686.8 Q672.2,685.4 672.8,684.1 L681,684 Q683,683.5 684.5,680.8 Z" fill="#111"/>
<text transform="translate(840.35,344.00) scale(1.286,1)" font-size="28.05" font-weight="normal" stroke="#111" stroke-width="0.45">7</text>
<text transform="translate(857.49,344.00) scale(1.722,1)" font-size="28.05" font-weight="normal" stroke="#111" stroke-width="0.45">.</text>
<text transform="translate(869.40,344.00) scale(1.219,1)" font-size="28.05" font-weight="normal" stroke="#111" stroke-width="0.45">R</text>
<text transform="translate(839.94,473.31) scale(1.207,1)" font-size="29.66" font-weight="normal" stroke="#111" stroke-width="0.45">8</text>
<text transform="translate(857.87,473.60) scale(1.487,1)" font-size="29.66" font-weight="normal" stroke="#111" stroke-width="0.45">.</text>
<text transform="translate(868.68,473.60) scale(1.158,1)" font-size="29.66" font-weight="normal" stroke="#111" stroke-width="0.45">R</text>
</g>
</svg>
</body></html>
